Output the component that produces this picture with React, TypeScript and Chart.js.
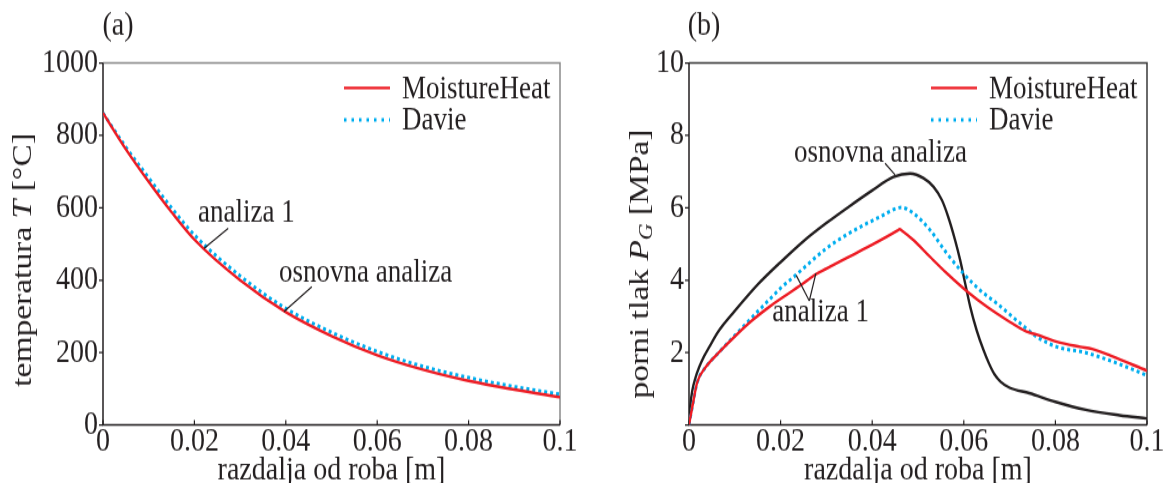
import React, { useEffect, useRef } from "react";
import { Chart, registerables } from "chart.js";

Chart.register(...registerables);

const FONT = "'Liberation Serif', 'Times New Roman', serif";
const INK = "#231f20";
const RED = "#ed1c24";
const CYAN = "#00aeef";
const BLACK = "#231f20";

// The source figure is stretched vertically; canvases are drawn at a lower native
// height and displayed at full height.
const DISPLAY_H = 483;
const NATIVE_H = 403;
const SY = DISPLAY_H / NATIVE_H;
const ny = (v: number) => v / SY;

// ---- axes ----
const xTicks = [0, 0.02, 0.04, 0.06, 0.08, 0.1];
const tempTicks = [0, 200, 400, 600, 800, 1000];
const pressureTicks = [0, 2, 4, 6, 8, 10];

// ---- (a) temperature ----
const tempX = [0, 0.005, 0.01, 0.015, 0.02, 0.03, 0.04, 0.05, 0.06, 0.07, 0.08, 0.09, 0.1];
const tempMoisture = [862, 762, 672, 588, 512, 400, 312, 246, 193, 153, 122, 98, 77];
const tempDavie = [862, 768, 683, 600, 525, 412, 322, 256, 203, 162, 131, 106, 85];

// ---- (b) pore pressure ----
const presMoistX = [0, 0.0009, 0.0018, 0.0036, 0.0065, 0.0102, 0.0138, 0.0175, 0.0211, 0.025, 0.0275, 0.03, 0.035, 0.04, 0.0455, 0.046, 0.0465, 0.049, 0.0526, 0.0563, 0.061, 0.065, 0.0694, 0.0737, 0.0759, 0.0803, 0.0854, 0.088, 0.092, 0.1];
const presMoistY = [0, 0.62, 1.18, 1.59, 2.0, 2.47, 2.89, 3.26, 3.58, 3.92, 4.15, 4.32, 4.65, 4.98, 5.37, 5.41, 5.37, 5.11, 4.65, 4.19, 3.66, 3.27, 2.9, 2.58, 2.5, 2.3, 2.16, 2.1, 1.92, 1.5];

const presDavieX = [0, 0.0009, 0.0018, 0.0036, 0.0065, 0.0102, 0.0138, 0.0175, 0.02, 0.0233, 0.03, 0.035, 0.0417, 0.0464, 0.049, 0.0526, 0.0563, 0.0599, 0.0635, 0.0672, 0.0723, 0.0759, 0.0803, 0.0866, 0.0932, 0.1];
const presDavieY = [0, 0.62, 1.18, 1.59, 2.0, 2.5, 2.98, 3.46, 3.78, 4.14, 4.88, 5.3, 5.75, 6.01, 5.85, 5.39, 4.74, 4.19, 3.73, 3.36, 2.81, 2.44, 2.16, 2.0, 1.72, 1.37];

const presBaseX = [0, 0.0003, 0.0007, 0.0014, 0.0022, 0.0033, 0.0044, 0.0065, 0.01, 0.015, 0.02, 0.025, 0.03, 0.035, 0.04, 0.0446, 0.0483, 0.0512, 0.0534, 0.0552, 0.0566, 0.0581, 0.0592, 0.0603, 0.0614, 0.0628, 0.0643, 0.0655, 0.0667, 0.068, 0.07, 0.0743, 0.08, 0.0866, 0.094, 0.1];
const presBaseY = [0, 0.55, 0.94, 1.3, 1.59, 1.9, 2.15, 2.6, 3.15, 3.88, 4.5, 5.08, 5.58, 6.04, 6.48, 6.85, 6.95, 6.82, 6.58, 6.22, 5.75, 5.11, 4.56, 3.91, 3.27, 2.62, 2.07, 1.7, 1.4, 1.2, 1.03, 0.88, 0.64, 0.42, 0.27, 0.18];

const seriesNames = ["MoistureHeat", "Davie", "osnovna analiza"];

const zip = (xs: number[], ys: number[]) => xs.map((x, i) => ({ x, y: ys[i] }));

type Seg = { text: string; italic?: boolean; sub?: boolean };

const decor = {
  id: "decor",
  beforeDatasetsDraw(chart: any, _a: any, opts: any) {
    const ctx = chart.ctx;
    const { left, right, top, bottom } = chart.chartArea;
    ctx.save();
    ctx.lineWidth = 1.5;
    ctx.strokeStyle = opts.frameColor;
    ctx.beginPath();
    ctx.moveTo(left, top);
    ctx.lineTo(right, top);
    ctx.lineTo(right, bottom);
    ctx.stroke();
    ctx.strokeStyle = INK;
    ctx.beginPath();
    ctx.moveTo(left, top);
    ctx.lineTo(left, bottom);
    ctx.lineTo(right, bottom);
    ctx.stroke();
    const xs = chart.scales.x;
    const ys = chart.scales.y;
    ctx.lineWidth = 1.2;
    ctx.beginPath();
    xs.ticks.forEach((t: any) => {
      const px = xs.getPixelForValue(t.value);
      ctx.moveTo(px, bottom);
      ctx.lineTo(px, bottom - 4);
    });
    ys.ticks.forEach((t: any) => {
      const py = ys.getPixelForValue(t.value);
      ctx.moveTo(left - 4, py);
      ctx.lineTo(left, py);
    });
    ctx.stroke();
    ctx.restore();
  },
  afterDraw(chart: any, _a: any, opts: any) {
    const ctx = chart.ctx;
    const { left, right, top } = chart.chartArea;
    const xs = chart.scales.x;
    const ys = chart.scales.y;
    ctx.save();
    ctx.fillStyle = INK;
    ctx.textBaseline = "middle";
    // panel label
    ctx.font = `28px ${FONT}`;
    ctx.textAlign = "center";
    ctx.fillText(opts.panel, left + 15, ny(26));
    // x title
    ctx.fillText(opts.xTitle, (left + right) / 2, ny(471));
    // y title (rich)
    const segs: Seg[] = opts.yTitle;
    const fontOf = (s: Seg) => `${s.italic ? "italic " : ""}${s.sub ? 19 : 28}px ${FONT}`;
    ctx.save();
    ctx.translate(opts.yTitleX, ny(opts.yTitleY));
    ctx.rotate(-Math.PI / 2);
    let total = 0;
    segs.forEach((s) => {
      ctx.font = fontOf(s);
      total += ctx.measureText(s.text).width;
    });
    let cx = -total / 2;
    ctx.textAlign = "left";
    segs.forEach((s) => {
      ctx.font = fontOf(s);
      ctx.fillText(s.text, cx, s.sub ? 6 : 0);
      cx += ctx.measureText(s.text).width;
    });
    ctx.restore();
    // legend
    ctx.font = `27px ${FONT}`;
    ctx.textAlign = "left";
    (opts.legend as number[]).forEach((di, i) => {
      const ds = chart.data.datasets[di];
      const y = top + ny(25 + i * 32);
      ctx.save();
      ctx.strokeStyle = ds.borderColor;
      ctx.lineWidth = ds.borderWidth;
      ctx.setLineDash(ds.borderDash && ds.borderDash.length ? [2.5, 5] : []);
      ctx.beginPath();
      ctx.moveTo(right - 216, y);
      ctx.lineTo(right - 170, y);
      ctx.stroke();
      ctx.restore();
      ctx.fillText(ds.label, right - 158, y + 1);
    });
    // annotations
    ctx.font = `27px ${FONT}`;
    ctx.lineWidth = 1.2;
    ctx.strokeStyle = INK;
    (opts.notes as any[]).forEach((n) => {
      ctx.textAlign = "left";
      ctx.fillText(n.text, xs.getPixelForValue(n.x), ys.getPixelForValue(n.y));
      n.lines.forEach((l: number[]) => {
        ctx.beginPath();
        ctx.moveTo(xs.getPixelForValue(l[0]), ys.getPixelForValue(l[1]));
        ctx.lineTo(xs.getPixelForValue(l[2]), ys.getPixelForValue(l[3]));
        ctx.stroke();
      });
    });
    ctx.restore();
  },
};

function makeOptions(p: {
  yMax: number;
  yTicks: number[];
  hideZeroY: boolean;
  yWidth: number;
  padRight: number;
  decor: any;
}) {
  const tickFont = { family: FONT, size: 28 };
  return {
    animation: false,
    responsive: false,
    maintainAspectRatio: false,
    layout: { padding: { top: ny(63), right: p.padRight, left: 0, bottom: 0 } },
    plugins: {
      legend: { display: false },
      tooltip: { enabled: false },
      decor: p.decor,
    },
    scales: {
      x: {
        type: "linear",
        min: 0,
        max: 0.1,
        afterBuildTicks: (s: any) => {
          s.ticks = xTicks.map((v) => ({ value: v }));
        },
        afterFit: (s: any) => {
          s.height = NATIVE_H - ny(425);
        },
        grid: { display: false, drawTicks: false },
        border: { display: false },
        ticks: {
          font: tickFont,
          color: INK,
          padding: -3,
          maxRotation: 0,
          autoSkip: false,
          callback: (v: any) => String(+Number(v).toFixed(2)),
        },
      },
      y: {
        type: "linear",
        min: 0,
        max: p.yMax,
        afterBuildTicks: (s: any) => {
          s.ticks = p.yTicks.map((v) => ({ value: v }));
        },
        afterFit: (s: any) => {
          s.width = p.yWidth;
        },
        grid: { display: false, drawTicks: false },
        border: { display: false },
        ticks: {
          font: tickFont,
          color: INK,
          padding: 5,
          autoSkip: false,
          callback: (v: any) => (p.hideZeroY && Number(v) === 0 ? "" : String(v)),
        },
      },
    },
  };
}

function ChartPanel({ left, width, config }: { left: number; width: number; config: any }) {
  const ref = useRef<HTMLCanvasElement | null>(null);
  useEffect(() => {
    if (!ref.current) return;
    const chart = new Chart(ref.current, config);
    return () => chart.destroy();
  }, []);
  return (
    <canvas
      ref={ref}
      width={width}
      height={NATIVE_H}
      style={{ position: "absolute", left, top: 0, width: `${width}px`, height: `${DISPLAY_H}px` }}
    />
  );
}

const lineDs = (label: string, data: any[], color: string, dotted: boolean) => ({
  label,
  data,
  borderColor: color,
  backgroundColor: color,
  borderWidth: dotted ? 3 : 2.4,
  borderDash: dotted ? [3, 3] : [],
  pointRadius: 0,
  fill: false,
  cubicInterpolationMode: "monotone",
});

const configA = {
  type: "line",
  data: {
    datasets: [
      lineDs(seriesNames[0], zip(tempX, tempMoisture), RED, false),
      lineDs(seriesNames[1], zip(tempX, tempDavie), CYAN, true),
    ],
  },
  options: makeOptions({
    yMax: 1000,
    yTicks: tempTicks,
    hideZeroY: false,
    yWidth: 103,
    padRight: 23,
    decor: {
      panel: "(a)",
      xTitle: "razdalja od roba [m]",
      yTitle: [{ text: "temperatura " }, { text: "T", italic: true }, { text: " [°C]" }],
      yTitleX: 24,
      yTitleY: 260,
      frameColor: "#8a8a8a",
      legend: [0, 1],
      notes: [
        { text: "analiza 1", x: 0.0208, y: 584, lines: [[0.0274, 543, 0.0221, 488]] },
        { text: "osnovna analiza", x: 0.0385, y: 420, lines: [[0.0457, 382, 0.0396, 313]] },
      ],
    },
  }),
  plugins: [decor],
};

const configB = {
  type: "line",
  data: {
    datasets: [
      lineDs(seriesNames[0], zip(presMoistX, presMoistY), RED, false),
      lineDs(seriesNames[1], zip(presDavieX, presDavieY), CYAN, true),
      lineDs(seriesNames[2], zip(presBaseX, presBaseY), BLACK, false),
    ],
  },
  options: makeOptions({
    yMax: 10,
    yTicks: pressureTicks,
    hideZeroY: true,
    yWidth: 106,
    padRight: 20,
    decor: {
      panel: "(b)",
      xTitle: "razdalja od roba [m]",
      yTitle: [
        { text: "porni tlak " },
        { text: "P", italic: true },
        { text: "G", italic: true, sub: true },
        { text: " [MPa]" },
      ],
      yTitleX: 58,
      yTitleY: 264,
      frameColor: "#3a3a3a",
      legend: [0, 1],
      notes: [
        { text: "osnovna analiza", x: 0.0229, y: 7.51, lines: [[0.0428, 7.23, 0.045, 6.91]] },
        {
          text: "analiza 1",
          x: 0.0182,
          y: 3.09,
          lines: [
            [0.02627, 3.43, 0.0234, 4.14],
            [0.02627, 3.43, 0.0277, 4.19],
          ],
        },
      ],
    },
  }),
  plugins: [decor],
};

export default function App() {
  return (
    <div
      style={{
        position: "fixed",
        left: 0,
        top: 0,
        width: 1167,
        height: 483,
        background: "#ffffff",
        overflow: "hidden",
      }}
    >
      <ChartPanel left={0} width={583} config={configA} />
      <ChartPanel left={583} width={584} config={configB} />
    </div>
  );
}
